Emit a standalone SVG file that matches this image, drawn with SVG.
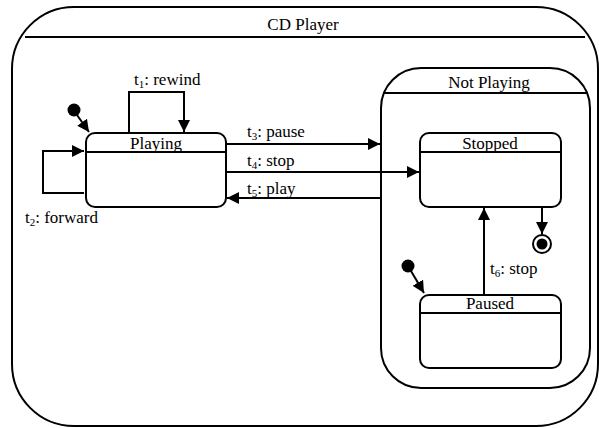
<svg xmlns="http://www.w3.org/2000/svg" width="599" height="428" viewBox="0 0 599 428">
<style>
.box{fill:none;stroke:#000;stroke-width:2}
.ln{fill:none;stroke:#000;stroke-width:2}
text{font-family:'Liberation Serif','Times New Roman',serif;font-size:17px;fill:#000}
.c{text-anchor:middle}
.sub{font-size:11px}
</style>
<defs>
<marker id="ah" viewBox="0 0 12 12" refX="12" refY="6" markerWidth="12" markerHeight="12" markerUnits="userSpaceOnUse" orient="auto">
<path d="M0,0 L12,6 L0,12 Z" fill="#000"/>
</marker>
</defs>
<rect width="599" height="428" fill="#fff"/>
<g id="cdplayer">
<path class="box" d="M74,7 H536 A62,62 0 0 1 598,69 V364 A62,62 0 0 1 536,426 H74 A62,62 0 0 1 12,364 V69 A62,62 0 0 1 74,7 Z"/>
<line class="ln" x1="25" y1="37" x2="585" y2="37"/>
<text class="c" x="303" y="30" font-size="17.5">CD Player</text>
</g>
<g id="notplaying">
<path class="box" d="M421,68 H550 A40,40 0 0 1 590,108 V348 A40,40 0 0 1 550,388 H421 A40,40 0 0 1 381,348 V108 A40,40 0 0 1 421,68 Z"/>
<line class="ln" x1="384" y1="93" x2="587" y2="93"/>
<text class="c" x="489" y="88" font-size="17.5">Not Playing</text>
</g>
<g id="playing">
<rect class="box" x="86" y="133" width="140" height="74" rx="9"/>
<line class="ln" x1="86" y1="152" x2="226" y2="152"/>
<text class="c" x="156" y="149">Playing</text>
</g>
<g id="stopped">
<rect class="box" x="420" y="133" width="141" height="74" rx="9"/>
<line class="ln" x1="420" y1="152" x2="561" y2="152"/>
<text class="c" x="490" y="149">Stopped</text>
</g>
<g id="paused">
<rect class="box" x="420" y="295" width="141" height="73" rx="9"/>
<line class="ln" x1="420" y1="313" x2="561" y2="313"/>
<text class="c" x="490" y="309">Paused</text>
</g>
<g id="init1"><circle cx="74" cy="110" r="6.5" fill="#000"/></g>
<g id="init2"><circle cx="408" cy="266" r="6.5" fill="#000"/></g>
<g id="final"><circle cx="542" cy="244" r="9" fill="#fff" stroke="#000" stroke-width="2"/><circle cx="542" cy="244" r="5.5" fill="#000"/></g>
<g id="connectors">
<line class="ln" x1="77" y1="115" x2="89" y2="132" marker-end="url(#ah)"/>
<polyline class="ln" points="129,133 129,92 184,92 184,132" marker-end="url(#ah)"/>
<polyline class="ln" points="84,193 43,193 43,151 84,151" marker-end="url(#ah)"/>
<line class="ln" x1="226" y1="144" x2="380" y2="144" marker-end="url(#ah)"/>
<line class="ln" x1="226" y1="172" x2="419" y2="172" marker-end="url(#ah)"/>
<line class="ln" x1="381" y1="198" x2="227" y2="198" marker-end="url(#ah)"/>
<line class="ln" x1="542" y1="207" x2="542" y2="234" marker-end="url(#ah)"/>
<line class="ln" x1="484" y1="295" x2="484" y2="208" marker-end="url(#ah)"/>
<line class="ln" x1="411" y1="271" x2="424" y2="293" marker-end="url(#ah)"/>
</g>
<g id="labels">
<text x="134" y="85">t<tspan class="sub" dy="3">1</tspan><tspan dy="-3">: rewind</tspan></text>
<text x="25" y="223">t<tspan class="sub" dy="3">2</tspan><tspan dy="-3">: forward</tspan></text>
<text x="247" y="137">t<tspan class="sub" dy="3">3</tspan><tspan dy="-3">: pause</tspan></text>
<text x="247" y="166">t<tspan class="sub" dy="3">4</tspan><tspan dy="-3">: stop</tspan></text>
<text x="247" y="194">t<tspan class="sub" dy="3">5</tspan><tspan dy="-3">: play</tspan></text>
<text x="490" y="274">t<tspan class="sub" dy="3">6</tspan><tspan dy="-3">: stop</tspan></text>
</g>
</svg>
